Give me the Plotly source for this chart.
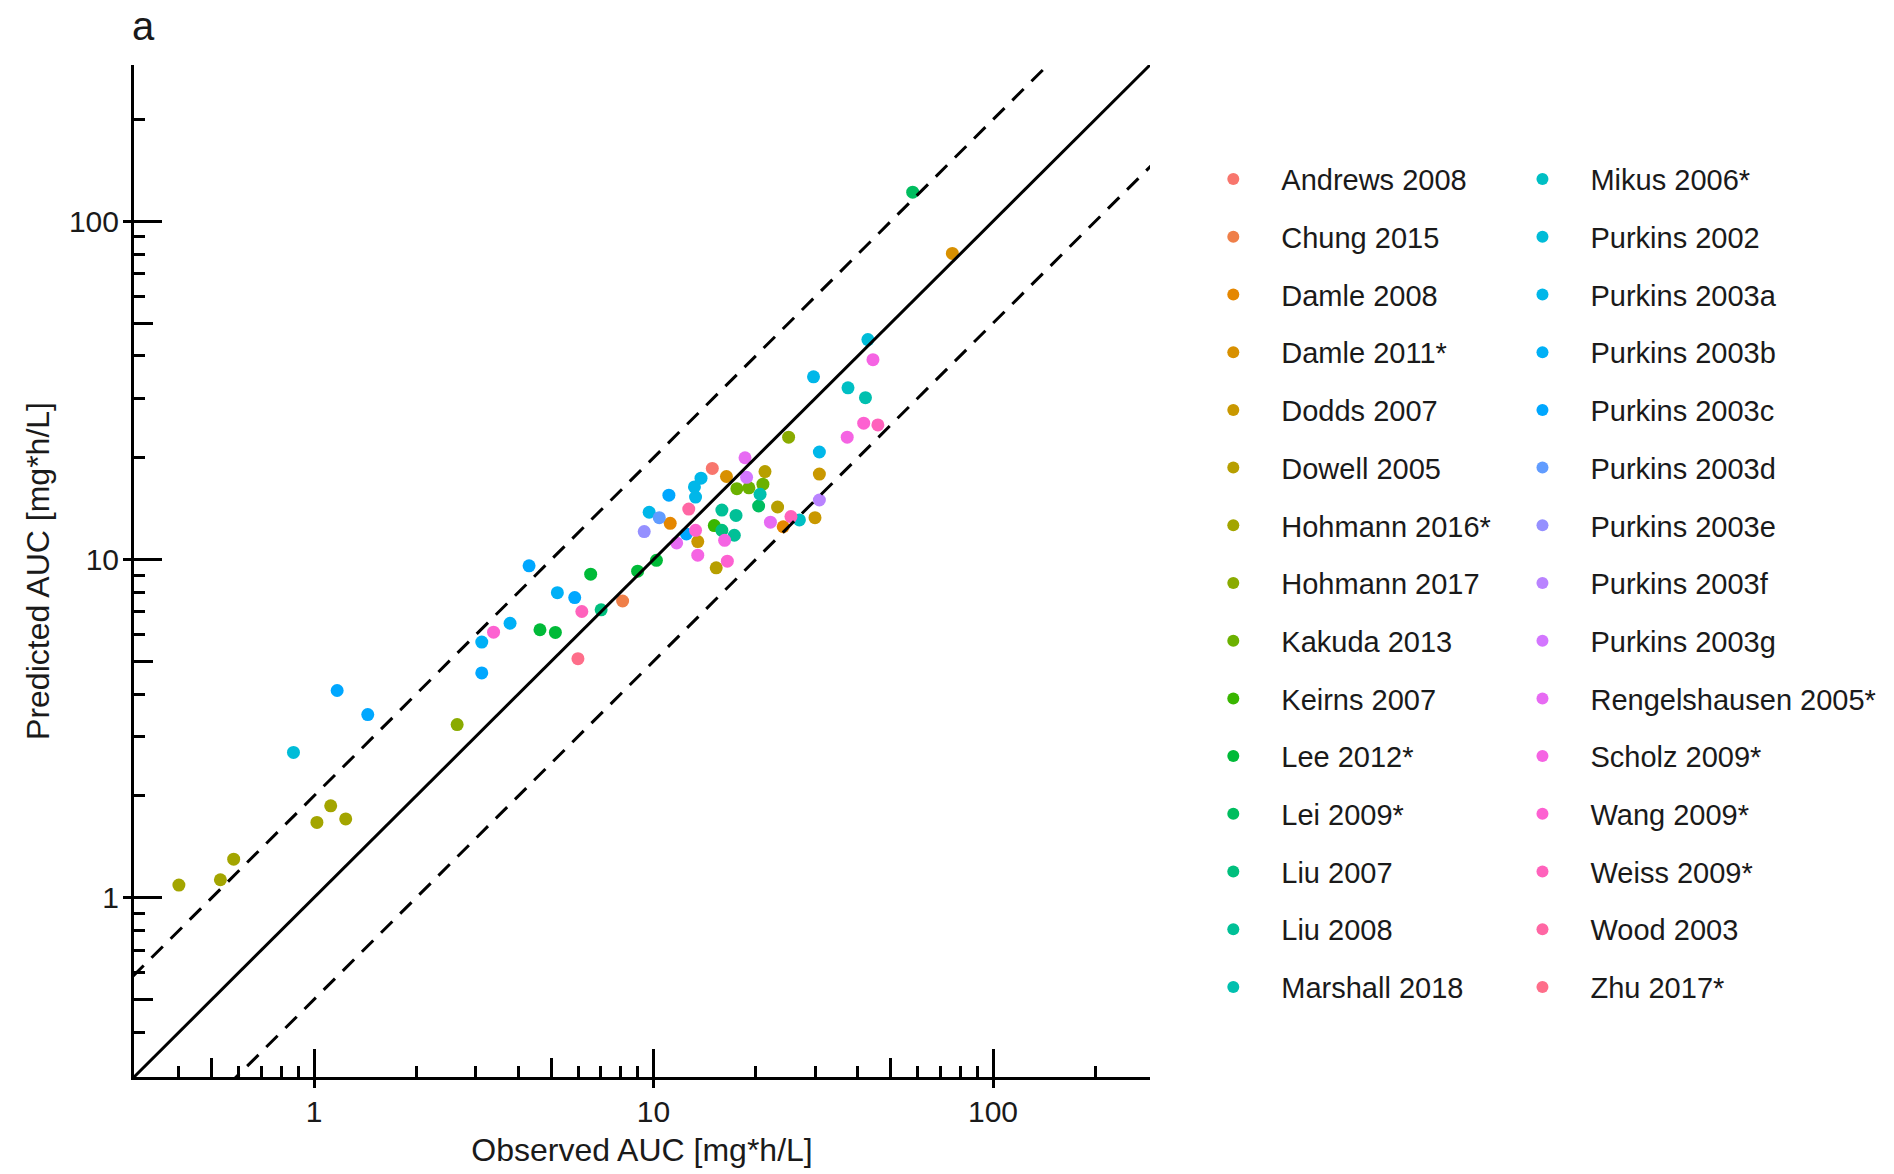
import math
import plotly.graph_objects as go

# ---------------- data ----------------
studies = [
    "Andrews 2008", "Chung 2015", "Damle 2008", "Damle 2011*", "Dodds 2007",
    "Dowell 2005", "Hohmann 2016*", "Hohmann 2017", "Kakuda 2013", "Keirns 2007",
    "Lee 2012*", "Lei 2009*", "Liu 2007", "Liu 2008", "Marshall 2018",
    "Mikus 2006*", "Purkins 2002", "Purkins 2003a", "Purkins 2003b", "Purkins 2003c",
    "Purkins 2003d", "Purkins 2003e", "Purkins 2003f", "Purkins 2003g", "Rengelshausen 2005*",
    "Scholz 2009*", "Wang 2009*", "Weiss 2009*", "Wood 2003", "Zhu 2017*",
]

point_study = (
    ["Andrews 2008"]
    + ["Chung 2015"]
    + ["Damle 2008"] * 2
    + ["Damle 2011*"] * 2
    + ["Dodds 2007"] * 3
    + ["Dowell 2005"] * 3
    + ["Hohmann 2016*"] * 6
    + ["Hohmann 2017"] * 2
    + ["Kakuda 2013"] * 3
    + ["Keirns 2007"]
    + ["Lee 2012*"] * 5
    + ["Lei 2009*"] * 2
    + ["Liu 2007"] * 2
    + ["Liu 2008"] * 3
    + ["Marshall 2018"] * 2
    + ["Mikus 2006*"] * 2
    + ["Purkins 2002"] * 2
    + ["Purkins 2003a"] * 6
    + ["Purkins 2003b"] * 3
    + ["Purkins 2003c"] * 7
    + ["Purkins 2003d"]
    + ["Purkins 2003e"]
    + ["Purkins 2003f"]
    + ["Purkins 2003g"]
    + ["Rengelshausen 2005*"] * 3
    + ["Scholz 2009*"] * 4
    + ["Wang 2009*"] * 4
    + ["Weiss 2009*"] * 3
    + ["Wood 2003"]
    + ["Zhu 2017*"]
)

observed_auc = [
    14.9,
    8.11,
    11.2, 24.1,
    16.4, 75.9,
    13.5, 29.9, 30.8,
    15.3, 21.3, 23.2,
    0.40, 0.53, 0.58, 1.02, 1.12, 1.24,
    2.64, 25.0,
    17.6, 19.1, 21.0,
    15.1,
    4.63, 5.14, 6.53, 8.98, 10.2,
    20.4, 58.0,
    7.01, 15.9,
    15.9, 17.5, 17.3,
    20.6, 42.1,
    26.9, 37.4,
    0.87, 42.8,
    9.71, 13.2, 13.8, 13.3, 30.8, 29.6,
    3.12, 3.78, 5.21,
    1.17, 1.44, 3.12, 4.30, 5.86, 11.1, 12.5,
    10.4,
    9.39,
    30.8,
    18.8,
    11.7, 18.6, 22.1,
    13.5, 16.2, 37.2, 44.3,
    3.38, 13.3, 16.5, 41.6,
    6.15, 25.4, 45.8,
    12.7,
    5.99,
]

predicted_auc = [
    18.6,
    7.54,
    12.8, 12.5,
    17.6, 80.4,
    11.3, 13.3, 17.9,
    9.45, 18.2, 14.3,
    1.09, 1.13, 1.30, 1.67, 1.87, 1.71,
    3.25, 23.0,
    16.2, 16.3, 16.7,
    12.6,
    6.20, 6.09, 9.05, 9.24, 9.95,
    14.4, 122.0,
    7.10, 12.2,
    14.0, 13.5, 11.8,
    15.6, 30.1,
    13.1, 32.2,
    2.69, 44.7,
    13.8, 16.4, 17.4, 15.3, 20.8, 34.7,
    5.70, 6.48, 7.98,
    4.10, 3.48, 4.62, 9.58, 7.72, 15.5, 11.9,
    13.3,
    12.1,
    15.0,
    17.5,
    11.2, 20.0, 12.9,
    10.3, 11.4, 23.0, 39.0,
    6.10, 12.2, 9.89, 25.3,
    7.02, 13.4, 25.0,
    14.1,
    5.09,
]

axis_limits = [0.295, 290]
line_span = [0.01, 10000]
fold_factors = [1, 2, 0.5]
major_ticks = [1, 10, 100]
major_labels = ["1", "10", "100"]
mid_ticks = [0.5, 5, 50]
minor_ticks = [0.4, 0.6, 0.7, 0.8, 0.9, 2, 3, 4, 6, 7, 8, 9,
               20, 30, 40, 60, 70, 80, 90, 200]


# ---------------- ggplot-like hue palette ----------------
def hcl_hex(h, c=100.0, l=65.0):
    hr = math.radians(h)
    u = c * math.cos(hr)
    v = c * math.sin(hr)
    Xn, Yn, Zn = 95.047, 100.0, 108.883
    Y = Yn * ((l + 16) / 116) ** 3
    t = Xn + 15 * Yn + 3 * Zn
    un, vn = 4 * Xn / t, 9 * Yn / t
    up = u / (13 * l) + un
    vp = v / (13 * l) + vn
    X = 9.0 * Y * up / (4 * vp)
    Z = -X / 3 - 5 * Y + 3 * Y / vp
    X, Y, Z = X / 100, Y / 100, Z / 100
    rgb = [
        3.240479 * X - 1.537150 * Y - 0.498535 * Z,
        -0.969256 * X + 1.875992 * Y + 0.041556 * Z,
        0.055648 * X - 0.204043 * Y + 1.057311 * Z,
    ]
    out = []
    for ch in rgb:
        ch = 12.92 * ch if ch <= 0.0031308 else 1.055 * ch ** (1 / 2.4) - 0.055
        ch = min(max(ch, 0.0), 1.0)
        out.append(int(round(ch * 255)))
    return "#%02X%02X%02X" % tuple(out)


n = len(studies)
palette = [hcl_hex(15 + 360.0 * i / n) for i in range(n)]

FONT = "Liberation Sans, Arial, sans-serif"
TXT = "#1a1a1a"

ML, MT, PW, PH = 133.5, 65, 1022, 1015
W, H = 1894, 1174

fig = go.Figure()

for i, s in enumerate(studies):
    xs = [o for o, st in zip(observed_auc, point_study) if st == s]
    ys = [p for p, st in zip(predicted_auc, point_study) if st == s]
    fig.add_trace(go.Scatter(
        x=xs, y=ys, mode="markers", name=s, legendgroup=s,
        legend="legend" if i < 15 else "legend2",
        marker=dict(size=13, color=palette[i], line=dict(width=0)),
        cliponaxis=False,
    ))

for f in fold_factors:
    fig.add_trace(go.Scatter(
        x=line_span, y=[v * f for v in line_span], mode="lines",
        line=dict(color="black", width=3, dash="solid" if f == 1 else "16px,11px"),
        showlegend=False, hoverinfo="skip",
    ))

log_range = [math.log10(axis_limits[0]), math.log10(axis_limits[1])]

common = dict(type="log", range=log_range, showgrid=False, zeroline=False)

legend_common = dict(
    xref="paper", yref="paper", y=1 - (154 - MT) / PH,
    xanchor="left", yanchor="top", traceorder="grouped",
    tracegroupgap=17, itemwidth=86, itemsizing="constant",
    font=dict(size=29, family=FONT, color=TXT), bgcolor="rgba(0,0,0,0)",
)

fig.update_layout(
    width=W, height=H,
    margin=dict(l=ML, r=W - ML - PW, t=MT, b=H - MT - PH),
    paper_bgcolor="white", plot_bgcolor="white",
    font=dict(family=FONT, color=TXT),
    xaxis=dict(
        **common,
        showline=True, linecolor="black", linewidth=3,
        tickvals=major_ticks, ticktext=major_labels,
        ticks="inside", ticklen=28, tickwidth=3, tickcolor="black",
        tickfont=dict(size=30, family=FONT, color=TXT),
        ticklabelstandoff=6,
        minor=dict(tickvals=minor_ticks, ticks="inside", ticklen=11,
                   tickwidth=2.5, tickcolor="black", showgrid=False),
        title=dict(text="Observed AUC [mg*h/L]", font=dict(size=32, family=FONT, color=TXT),
                   standoff=12),
    ),
    yaxis=dict(
        **common,
        showline=True, linecolor="black", linewidth=3,
        tickvals=major_ticks, ticktext=major_labels,
        ticks="inside", ticklen=28, tickwidth=3, tickcolor="black",
        tickfont=dict(size=30, family=FONT, color=TXT),
        ticklabelstandoff=6,
        minor=dict(tickvals=minor_ticks, ticks="inside", ticklen=11,
                   tickwidth=2.5, tickcolor="black", showgrid=False),
        title=dict(text="Predicted AUC [mg*h/L]", font=dict(size=32, family=FONT, color=TXT),
                   standoff=10),
    ),
    xaxis2=dict(**common, overlaying="x", anchor="y", side="bottom",
                tickvals=mid_ticks, ticks="inside", ticklen=19, tickwidth=2.5,
                tickcolor="black", showticklabels=False, showline=False),
    yaxis2=dict(**common, overlaying="y", anchor="x", side="left",
                tickvals=mid_ticks, ticks="inside", ticklen=19, tickwidth=2.5,
                tickcolor="black", showticklabels=False, showline=False),
    xaxis3=dict(**common, overlaying="x", anchor="y", side="bottom",
                tickvals=major_ticks, ticks="outside", ticklen=10, tickwidth=3,
                tickcolor="black", showticklabels=False, showline=False),
    yaxis3=dict(**common, overlaying="y", anchor="x", side="left",
                tickvals=major_ticks, ticks="outside", ticklen=10, tickwidth=3,
                tickcolor="black", showticklabels=False, showline=False),
    legend=dict(x=(1191 - ML) / PW, **legend_common),
    legend2=dict(x=(1502 - ML) / PW, **legend_common),
    annotations=[dict(
        text="a", xref="paper", yref="paper", x=(143 - ML) / PW, y=1 + (MT - 26) / PH,
        showarrow=False, font=dict(size=40, family=FONT, color=TXT),
        xanchor="center", yanchor="middle",
    )],
    showlegend=True,
)

# dummy traces so overlay axes are registered
fig.add_trace(go.Scatter(x=[None], y=[None], xaxis="x2", yaxis="y2", showlegend=False, hoverinfo="skip"))
fig.add_trace(go.Scatter(x=[None], y=[None], xaxis="x3", yaxis="y3", showlegend=False, hoverinfo="skip"))

fig.write_html("out.html", config={"displayModeBar": False},
               post_script="document.body.style.margin='0';")
